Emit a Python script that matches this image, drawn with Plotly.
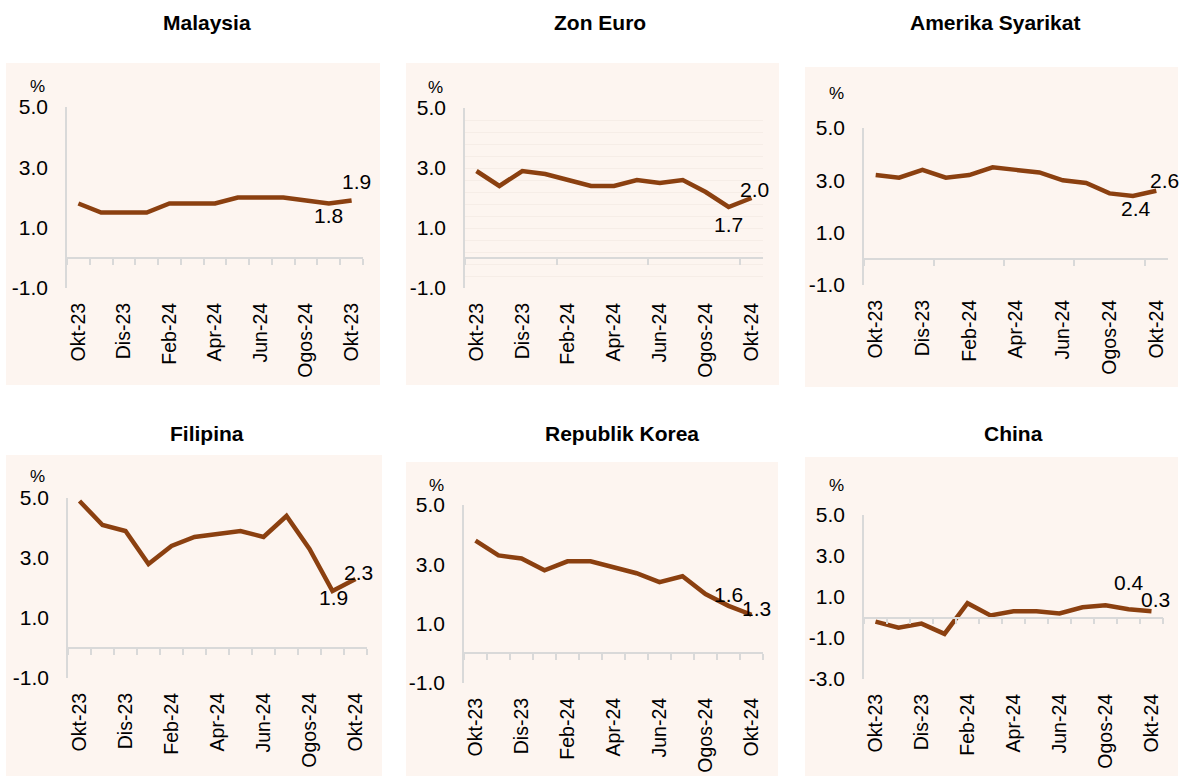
import plotly.graph_objects as go

# ---------------- data ----------------
months = ["Okt-23", "Nov-23", "Dis-23", "Jan-24", "Feb-24", "Mac-24", "Apr-24",
          "Mei-24", "Jun-24", "Jul-24", "Ogos-24", "Sep-24", "Okt-24"]
tick_months = ["Okt-23", "Dis-23", "Feb-24", "Apr-24", "Jun-24", "Ogos-24", "Okt-24"]
tick_labels = ["Okt-23", "Dis-23", "Feb-24", "Apr-24", "Jun-24", "Ogos-24", "Okt-24"]
tick_labels_malaysia = ["Okt-23", "Dis-23", "Feb-24", "Apr-24", "Jun-24", "Ogos-24", "Okt-23"]

titles = ["Malaysia", "Zon Euro", "Amerika Syarikat", "Filipina", "Republik Korea", "China"]

malaysia = [1.8, 1.5, 1.5, 1.5, 1.8, 1.8, 1.8, 2.0, 2.0, 2.0, 1.9, 1.8, 1.9]
zon_euro = [2.9, 2.4, 2.9, 2.8, 2.6, 2.4, 2.4, 2.6, 2.5, 2.6, 2.2, 1.7, 2.0]
amerika = [3.2, 3.1, 3.4, 3.1, 3.2, 3.5, 3.4, 3.3, 3.0, 2.9, 2.5, 2.4, 2.6]
filipina = [4.9, 4.1, 3.9, 2.8, 3.4, 3.7, 3.8, 3.9, 3.7, 4.4, 3.3, 1.9, 2.3]
korea = [3.8, 3.3, 3.2, 2.8, 3.1, 3.1, 2.9, 2.7, 2.4, 2.6, 2.0, 1.6, 1.3]
china = [-0.2, -0.5, -0.3, -0.8, 0.7, 0.1, 0.3, 0.3, 0.2, 0.5, 0.6, 0.4, 0.3]

y_ticks = [-1, 1, 3, 5]
y_ticks_china = [-3, -1, 1, 3, 5]

series = [malaysia, zon_euro, amerika, filipina, korea, china]
xlabels = [tick_labels_malaysia, tick_labels, tick_labels, tick_labels, tick_labels, tick_labels]
yticks = [y_ticks, y_ticks, y_ticks, y_ticks, y_ticks, y_ticks_china]

# ---------------- styling / layout geometry (pixels) ----------------
W, H = 1181, 776
FONT = "Arial, Liberation Sans, sans-serif"
LINE = "#8B4010"
BG = "#FDF5F0"
AXC = "#D9D9D9"
GRID = "#F6EDE7"

# background box, plot box, title centre, % centre, tick spacing on zero line,
# label offsets (dx, dy) for last two points
panels = [
    dict(bg=(6, 63, 380, 385), plot=(67, 107, 363, 288), title=(207, 22), pct=(37, 86), tk=1,
         offs=[(0, -12), (5, 19)]),
    dict(bg=(406, 63, 779, 385), plot=(465, 108, 763, 288), title=(600, 22), pct=(435, 87), tk=4,
         offs=[(0, -18), (3, 8)], grid=True),
    dict(bg=(805, 67, 1178, 387), plot=(864, 128, 1168, 285), title=(995, 22), pct=(836, 93), tk=3,
         offs=[(3, -12), (8, 10)]),
    dict(bg=(6, 455, 382, 776), plot=(68, 498, 367, 678), title=(207, 433), pct=(37, 476), tk=1,
         offs=[(1, -6), (3, 7)]),
    dict(bg=(406, 462, 778, 776), plot=(464, 505, 763, 683), title=(622, 433), pct=(436, 485), tk=1,
         offs=[(0, 11), (5, 6)]),
    dict(bg=(805, 457, 1178, 776), plot=(864, 515, 1163, 679), title=(1013, 433), pct=(836, 485), tk=1,
         offs=[(0, 27), (4, 12)]),
]


def fx(px):
    return px / W


def fy(py):
    return 1 - py / H


fig = go.Figure()
layout = dict(
    width=W, height=H, margin=dict(l=0, r=0, t=0, b=0, autoexpand=False),
    paper_bgcolor="white", plot_bgcolor="rgba(0,0,0,0)",
    showlegend=False, font=dict(family=FONT, color="#000000"),
)
shapes, annotations = [], []

for i, (p, vals, xl, yt) in enumerate(zip(panels, series, xlabels, yticks)):
    n = i + 1
    xa, ya, xo = f"xaxis{n}", f"yaxis{n}", f"xaxis{n + 6}"
    xr, yr = f"x{n}", f"y{n}"
    x0, y0, x1, y1 = p["plot"]
    ymin, ymax = min(yt), max(yt)
    xdom = [fx(x0), fx(x1)]
    ydom = [fy(y1), fy(y0)]

    fig.add_trace(go.Scatter(x=months, y=vals, mode="lines", xaxis=xr, yaxis=yr,
                             line=dict(color=LINE, width=4.5), hoverinfo="skip"))

    layout[xa] = dict(domain=xdom, anchor=yr, type="category", categoryarray=months,
                      range=[-0.5, len(months) - 0.5], showline=False, showgrid=False,
                      zeroline=False, ticks="", tickvals=tick_months, ticktext=xl,
                      tickangle=-90, tickfont=dict(size=19.5, family=FONT, color="#000"),
                      ticklabelstandoff=10, automargin=False)
    yax = dict(domain=ydom, anchor=xr, range=[ymin, ymax], showline=True, linecolor=AXC,
               linewidth=1.5, zeroline=False, ticks="", tickvals=yt,
               ticktext=[f"{v:.1f}" for v in yt],
               tickfont=dict(size=21, family=FONT, color="#000"), ticklabelstandoff=13,
               showgrid=False, automargin=False)
    if p.get("grid"):
        yax.update(showgrid=True, gridcolor=GRID, gridwidth=1,
                   minor=dict(tick0=ymin, dtick=0.4, showgrid=True, gridcolor=GRID, gridwidth=1))
    layout[ya] = yax

    # zero line with boundary ticks
    zero_pos = ydom[0] + (0 - ymin) / (ymax - ymin) * (ydom[1] - ydom[0])
    layout[xo] = dict(domain=xdom, overlaying=xr, anchor="free", position=zero_pos,
                      range=[-0.5, len(months) - 0.5], showline=True, linecolor=AXC, linewidth=1.5,
                      ticks="outside", ticklen=6, tickwidth=1.5, tickcolor=AXC,
                      tick0=-0.5, dtick=p["tk"], showticklabels=False, showgrid=False,
                      zeroline=False, side="bottom", automargin=False)
    fig.add_trace(go.Scatter(x=[-0.5, len(months) - 0.5], y=[ymin, ymin], mode="lines",
                             xaxis=f"x{n + 6}", yaxis=yr, line=dict(width=0),
                             hoverinfo="skip", opacity=0))

    # background
    bx0, by0, bx1, by1 = p["bg"]
    shapes.append(dict(type="rect", xref="paper", yref="paper", x0=fx(bx0), x1=fx(bx1),
                       y0=fy(by1), y1=fy(by0), fillcolor=BG, line=dict(width=0), layer="below"))

    # title
    annotations.append(dict(text=f"<b>{titles[i]}</b>", xref="paper", yref="paper",
                            x=fx(p["title"][0]), y=fy(p["title"][1]), showarrow=False,
                            xanchor="center", yanchor="middle",
                            font=dict(size=21, family=FONT, color="#000")))
    # percent sign
    annotations.append(dict(text="%", xref="paper", yref="paper",
                            x=fx(p["pct"][0]), y=fy(p["pct"][1]), showarrow=False,
                            xanchor="center", yanchor="middle",
                            font=dict(size=17, family=FONT, color="#000")))
    # data labels on last two points
    for k, (dx, dy) in zip([len(months) - 2, len(months) - 1], p["offs"]):
        annotations.append(dict(text=f"{vals[k]:.1f}", xref=xr, yref=yr, x=months[k], y=vals[k],
                                showarrow=False, xanchor="center", yanchor="middle",
                                xshift=dx, yshift=dy,
                                font=dict(size=21, family=FONT, color="#000")))

layout["shapes"] = shapes
layout["annotations"] = annotations
fig.update_layout(**layout)
fig.write_html("out.html", config={"displayModeBar": False},
               post_script="document.body.style.margin='0px';")
